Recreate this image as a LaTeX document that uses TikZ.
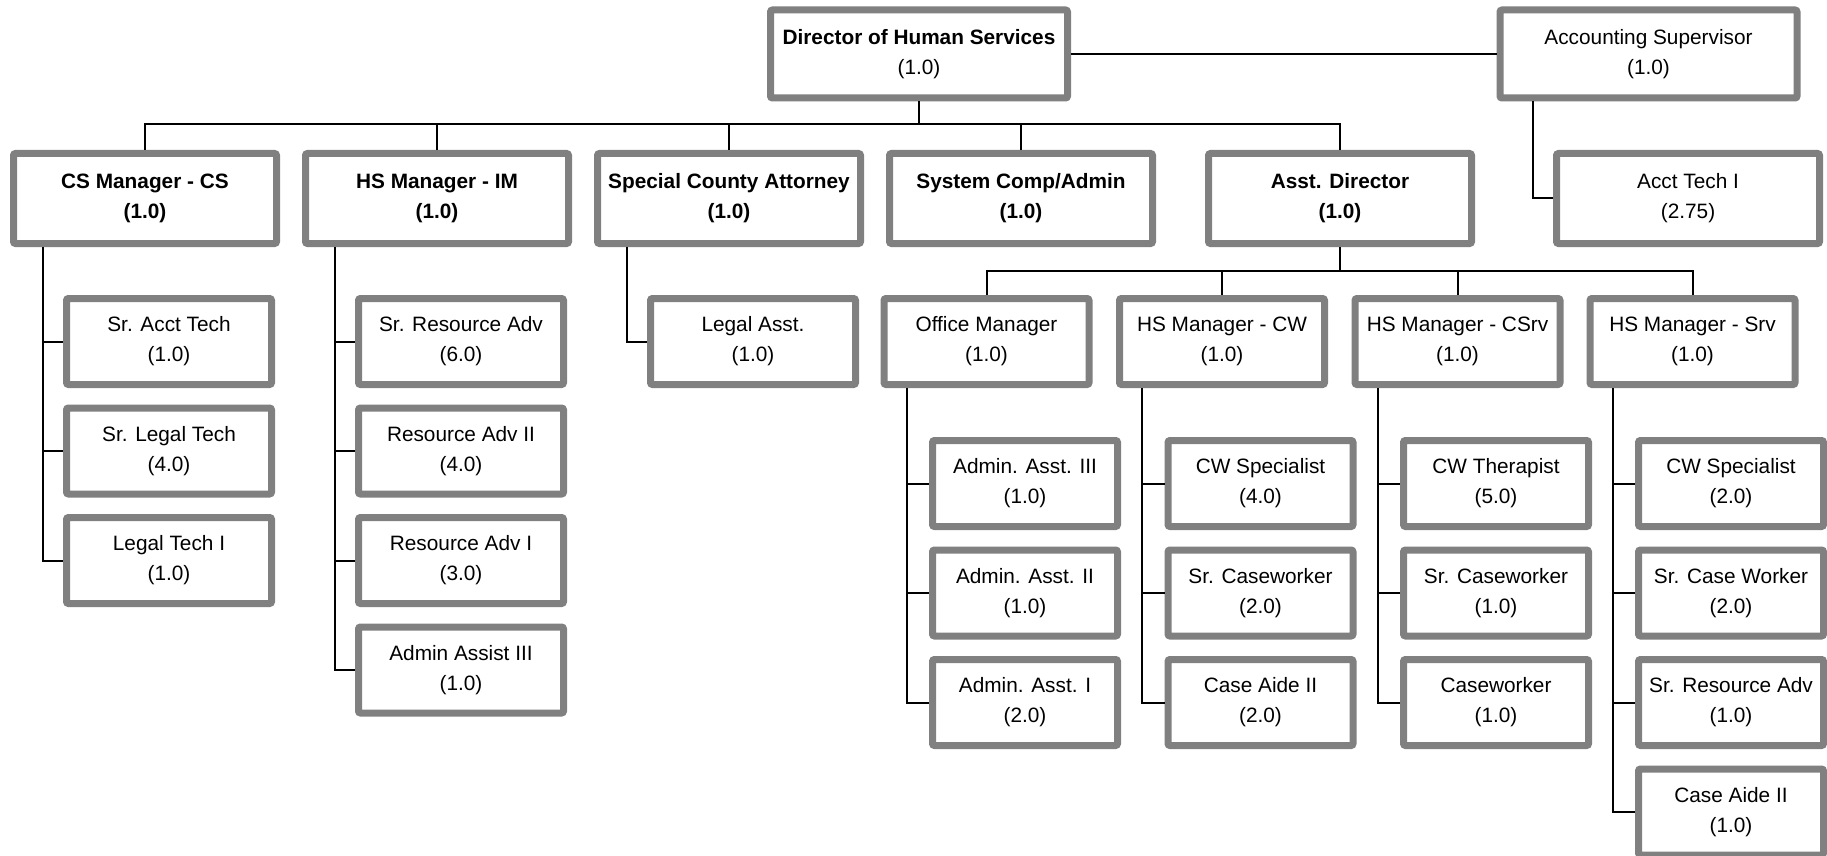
\documentclass[tikz,border=0pt]{standalone}
\usepackage{fontspec}
\setmainfont{Liberation Sans}
\usetikzlibrary{positioning}
\definecolor{boxgray}{HTML}{808080}

\begin{document}
\begin{tikzpicture}[
x=0.5pt, y=-0.5pt,
node distance=8.25pt,
box/.style={rectangle, draw=boxgray, line width=3.5pt, rounded corners=1pt, fill=white, align=center, inner sep=0pt, font=\fontsize{10.4}{15}\selectfont},
head/.style={box, minimum width=148.5pt, minimum height=44pt},
mgr/.style={box, minimum width=131.5pt, minimum height=45pt},
bmgr/.style={mgr, font=\fontsize{10.4}{15}\selectfont\bfseries},
sub/.style={box, minimum width=102.5pt, minimum height=43pt},
leaf/.style={box, minimum width=92.5pt, minimum height=43pt},
conn/.style={line width=1pt}
]
\useasboundingbox (0,0) rectangle (1827,856);

\node[head] (dir) at (919,54) {\textbf{Director of Human Services}\\(1.0)};
\node[head] (acct) at (1648.5,54) {Accounting Supervisor\\(1.0)};

\node[bmgr] (csm) at (145,198.5) {CS Manager - CS\\(1.0)};
\node[bmgr] (him) at (437,198.5) {HS Manager - IM\\(1.0)};
\node[bmgr] (sca) at (729,198.5) {Special County Attorney\\(1.0)};
\node[bmgr] (scm) at (1021,198.5) {System Comp/Admin\\(1.0)};
\node[bmgr] (adir) at (1340,198.5) {Asst. Director\\(1.0)};
\node[mgr] (atech) at (1688,198.5) {Acct Tech I\\(2.75)};

\node[sub] (srtech) at (169,341.5) {Sr. Acct Tech\\(1.0)};
\node[sub, below=of srtech] (srlegal) {Sr. Legal Tech\\(4.0)};
\node[sub, below=of srlegal] (legtech) {Legal Tech I\\(1.0)};

\node[sub] (srres) at (461,341.5) {Sr. Resource Adv\\(6.0)};
\node[sub, below=of srres] (resii) {Resource Adv II\\(4.0)};
\node[sub, below=of resii] (resi) {Resource Adv I\\(3.0)};
\node[sub, below=of resi] (admiii) {Admin Assist III\\(1.0)};

\node[sub] (legasst) at (753,341.5) {Legal Asst.\\(1.0)};

\node[sub] (offm) at (986.5,341.5) {Office Manager\\(1.0)};
\node[sub] (cwm) at (1222,341.5) {HS Manager - CW\\(1.0)};
\node[sub] (csrvm) at (1457.5,341.5) {HS Manager - CSrv\\(1.0)};
\node[sub] (srvm) at (1692.5,341.5) {HS Manager - Srv\\(1.0)};

\node[leaf] (aa3) at (1025,483.5) {Admin. Asst. III\\(1.0)};
\node[leaf, below=of aa3] (aa2) {Admin. Asst. II\\(1.0)};
\node[leaf, below=of aa2] (aa1) {Admin. Asst. I\\(2.0)};

\node[leaf] (cwspec) at (1260.5,483.5) {CW Specialist\\(4.0)};
\node[leaf, below=of cwspec] (srcw) {Sr. Caseworker\\(2.0)};
\node[leaf, below=of srcw] (aidecw) {Case Aide II\\(2.0)};

\node[leaf] (cwther) at (1496,483.5) {CW Therapist\\(5.0)};
\node[leaf, below=of cwther] (srcs) {Sr. Caseworker\\(1.0)};
\node[leaf, below=of srcs] (cswork) {Caseworker\\(1.0)};

\node[leaf] (cwspec2) at (1731,483.5) {CW Specialist\\(2.0)};
\node[leaf, below=of cwspec2] (srcase) {Sr. Case Worker\\(2.0)};
\node[leaf, below=of srcase] (srres2) {Sr. Resource Adv\\(1.0)};
\node[leaf, below=of srres2] (aidesrv) {Case Aide II\\(1.0)};

\draw[conn] (dir.east) -- (acct.west);
\draw[conn] ([xshift=18pt]acct.south west) |- (atech.west);
\foreach \m in {csm,him,sca,scm,adir}
  \draw[conn] (dir.south) -- ++(0,23) -| (\m.north);
\foreach \m in {offm,cwm,csrvm,srvm}
  \draw[conn] (adir.south) -- ++(0,24) -| (\m.north);

\foreach \c in {srtech,srlegal,legtech}
  \draw[conn] ([xshift=16.5pt]csm.south west) |- (\c.west);
\foreach \c in {srres,resii,resi,admiii}
  \draw[conn] ([xshift=16.5pt]him.south west) |- (\c.west);
\draw[conn] ([xshift=16.5pt]sca.south west) |- (legasst.west);

\foreach \c in {aa3,aa2,aa1}
  \draw[conn] ([xshift=13pt]offm.south west) |- (\c.west);
\foreach \c in {cwspec,srcw,aidecw}
  \draw[conn] ([xshift=13pt]cwm.south west) |- (\c.west);
\foreach \c in {cwther,srcs,cswork}
  \draw[conn] ([xshift=13pt]csrvm.south west) |- (\c.west);
\foreach \c in {cwspec2,srcase,srres2,aidesrv}
  \draw[conn] ([xshift=13pt]srvm.south west) |- (\c.west);
\end{tikzpicture}
\end{document}
